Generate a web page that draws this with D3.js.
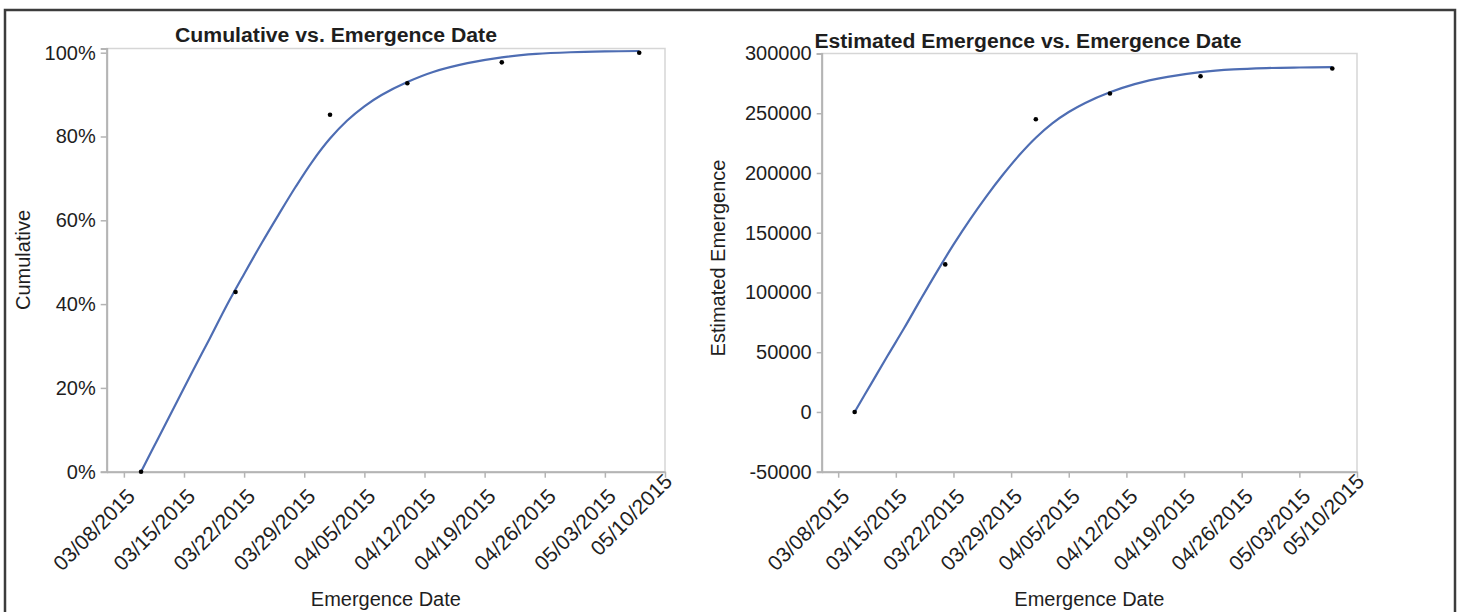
<!DOCTYPE html>
<html>
<head>
<meta charset="utf-8">
<script src="https://cdn.jsdelivr.net/npm/d3@7"></script>
<style>
  html, body { margin: 0; padding: 0; background: #fff; }
  svg { display: block; font-family: "Liberation Sans", Arial, Helvetica, sans-serif; }
</style>
</head>
<body>
<svg id="chart" width="1462" height="612"></svg>
<script>
// Weekly date ticks shared by both panels
const xTickLabels = ["03/08/2015", "03/15/2015", "03/22/2015", "03/29/2015", "04/05/2015",
                     "04/12/2015", "04/19/2015", "04/26/2015", "05/03/2015", "05/10/2015"];
const xDomainLabels = ["03/06/2015", "05/10/2015"];

// Observed emergence counts
const obsDates = ["03/10/2015", "03/21/2015", "04/01/2015", "04/10/2015", "04/21/2015", "05/07/2015"];
const cumulative = [0, 0.429, 0.852, 0.927, 0.977, 1.0];
const estimated = [0, 123500, 245000, 266500, 281000, 287500];

// Fitted growth curve
const fitDates = ["03/10/2015", "03/12/2015", "03/14/2015", "03/16/2015", "03/18/2015", "03/20/2015",
                  "03/22/2015", "03/24/2015", "03/26/2015", "03/28/2015", "03/30/2015", "04/01/2015",
                  "04/03/2015", "04/05/2015", "04/07/2015", "04/10/2015", "04/13/2015", "04/17/2015",
                  "04/21/2015", "04/25/2015", "04/29/2015", "05/03/2015", "05/07/2015"];
const fitCumulative = [0, 0.080, 0.160, 0.240, 0.318, 0.398, 0.472, 0.544, 0.613, 0.680, 0.742, 0.795,
                       0.838, 0.872, 0.899, 0.930, 0.954, 0.975, 0.989, 0.997, 1.001, 1.003, 1.004];
const fitEstimated = [0, 23500, 47000, 70000, 94000, 117500, 140000, 161000, 180500, 198500, 215000, 229500,
                      241500, 251000, 258600, 267500, 274400, 280400, 284400, 286700, 287800, 288300, 288600];

// Value axis ticks
const pctTicks = [0, 0.2, 0.4, 0.6, 0.8, 1.0];
const pctDomain = [0, 1.01];
const estTicks = [-50000, 0, 50000, 100000, 150000, 200000, 250000, 300000];
const estDomain = [-50000, 300000];

const parse = d3.timeParse("%m/%d/%Y");
const svg = d3.select("#chart");

const ink = "#1e1e1e";
const axisGrey = "#b4b4b4";
const frameGrey = "#d6d6d6";
const curveBlue = "#4e6db3";

// Outer box around both panels
svg.append("rect")
  .attr("x", 5).attr("y", 10)
  .attr("width", 1450).attr("height", 640)
  .attr("fill", "none")
  .attr("stroke", "#3c3c3c")
  .attr("stroke-width", 2.5);

function drawPanel(cfg) {
  const g = svg.append("g");
  const x = d3.scaleTime()
    .domain(xDomainLabels.map(parse))
    .range([cfg.left, cfg.right]);
  const y = d3.scaleLinear()
    .domain(cfg.yDomain)
    .range([cfg.bottom, cfg.top]);

  // Plot frame
  g.append("rect")
    .attr("x", cfg.left).attr("y", cfg.top)
    .attr("width", cfg.right - cfg.left).attr("height", cfg.bottom - cfg.top)
    .attr("fill", "none").attr("stroke", frameGrey).attr("stroke-width", 1.5);

  // Y axis
  const yAxis = d3.axisLeft(y).tickValues(cfg.yTicks).tickFormat(cfg.yFormat)
    .tickSize(cfg.yTickSize).tickPadding(5);
  const ya = g.append("g").attr("transform", `translate(${cfg.left},0)`).call(yAxis);
  ya.select(".domain").attr("stroke", axisGrey).attr("stroke-width", 2);
  ya.selectAll(".tick line").attr("stroke", axisGrey).attr("stroke-width", 1.5);
  ya.selectAll(".tick text").attr("fill", ink).attr("font-size", 20)
    .attr("font-family", "Liberation Sans, Arial, sans-serif");

  // X axis with slanted date labels
  const xTicks = xTickLabels.map(parse);
  const xAxis = d3.axisBottom(x).tickValues(xTicks).tickFormat(d3.timeFormat("%m/%d/%Y"))
    .tickSize(6).tickSizeOuter(0);
  const xa = g.append("g").attr("transform", `translate(0,${cfg.bottom})`).call(xAxis);
  xa.select(".domain").attr("stroke", axisGrey).attr("stroke-width", 2);
  xa.selectAll(".tick line").attr("stroke", axisGrey).attr("stroke-width", 1.5);
  const last = xTicks.length - 1;
  xa.selectAll(".tick text")
    .attr("fill", ink).attr("font-size", 21)
    .attr("font-family", "Liberation Sans, Arial, sans-serif")
    .attr("text-anchor", "end")
    .attr("dy", null)
    .attr("y", 0)
    .attr("transform", (d, i) => i === last
      ? "translate(8,11) rotate(-45)"
      : "translate(12,26) rotate(-45)");

  // Fitted curve
  const fit = fitDates.map((d, i) => ({ date: parse(d), value: cfg.fit[i] }));
  g.append("path")
    .datum(fit)
    .attr("fill", "none")
    .attr("stroke", curveBlue)
    .attr("stroke-width", 2.2)
    .attr("stroke-linejoin", "round")
    .attr("d", d3.line().x(d => x(d.date)).y(d => y(d.value)).curve(d3.curveCatmullRom.alpha(0.5)));

  // Observed points
  const pts = obsDates.map((d, i) => ({ date: parse(d), value: cfg.obs[i] }));
  g.selectAll("circle.obs").data(pts).join("circle")
    .attr("class", "obs")
    .attr("cx", d => x(d.date)).attr("cy", d => y(d.value))
    .attr("r", 2.3).attr("fill", "#000");

  // Titles
  g.append("text")
    .attr("x", cfg.titleX).attr("y", cfg.titleY)
    .attr("text-anchor", "middle")
    .attr("font-size", 20).attr("font-weight", "bold").attr("fill", ink)
    .attr("textLength", cfg.titleLen).attr("lengthAdjust", "spacingAndGlyphs")
    .text(cfg.title);

  g.append("text")
    .attr("x", (cfg.left + cfg.right) / 2).attr("y", 606)
    .attr("text-anchor", "middle")
    .attr("font-size", 20).attr("fill", ink)
    .text("Emergence Date");

  g.append("text")
    .attr("transform", `translate(${cfg.yTitleX},${cfg.yTitleY}) rotate(-90)`)
    .attr("text-anchor", "middle")
    .attr("dy", "0.35em")
    .attr("font-size", 20).attr("fill", ink)
    .text(cfg.yTitle);
}

drawPanel({
  left: 106.7, right: 665, top: 48.5, bottom: 471.7,
  yDomain: pctDomain, yTicks: pctTicks, yFormat: d3.format(".0%"), yTickSize: 6,
  fit: fitCumulative, obs: cumulative,
  title: "Cumulative vs. Emergence Date", titleX: 336, titleY: 41.7, titleLen: 322,
  yTitle: "Cumulative", yTitleX: 23, yTitleY: 260
});

drawPanel({
  left: 821.7, right: 1357, top: 53.5, bottom: 471.7,
  yDomain: estDomain, yTicks: estTicks, yFormat: d => String(d), yTickSize: 5,
  fit: fitEstimated, obs: estimated,
  title: "Estimated Emergence vs. Emergence Date", titleX: 1028, titleY: 48.3, titleLen: 427,
  yTitle: "Estimated Emergence", yTitleX: 718, yTitleY: 258
});
</script>
</body>
</html>
